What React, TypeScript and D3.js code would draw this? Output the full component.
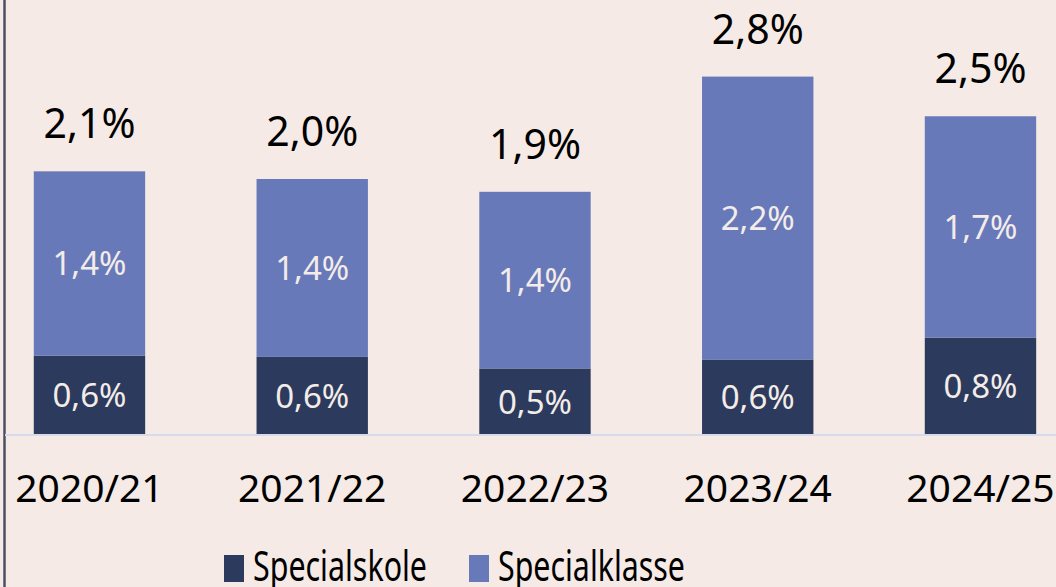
import React from "react";
import * as d3 from "d3";

const categories = ["2020/21", "2021/22", "2022/23", "2023/24", "2024/25"];
const specialskole = [0.62, 0.61, 0.52, 0.59, 0.76];
const specialklasse = [1.44, 1.39, 1.38, 2.21, 1.73];
const seriesNames = ["Specialskole", "Specialklasse"];
const seriesColors = ["#2c3a5e", "#6879b9"];

const W = 1056;
const H = 587;
const baseY = 435;
const FONT = "'Noto Sans', 'Open Sans', sans-serif";

const fmt = (v: number) => v.toFixed(1).replace(".", ",") + "%";

export default function App() {
  const x = d3
    .scaleBand<string>()
    .domain(categories)
    .range([-21.9, 1091.85])
    .paddingInner(0.5)
    .paddingOuter(0.25);
  const y = d3.scaleLinear().domain([0, 1]).range([baseY, baseY - 128]);
  const rows = categories.map((c, i) => ({ c, a: specialskole[i], b: specialklasse[i] }));
  const stack = d3.stack<any>().keys(["a", "b"])(rows as any);
  const bw = x.bandwidth();

  return (
    <svg width={W} height={H} style={{ position: "absolute", left: 0, top: 0, display: "block" }}>
      <rect x={0} y={0} width={W} height={H} fill="#f5eae5" />
      <line x1={4.5} x2={4.5} y1={0} y2={H} stroke="#4b5163" strokeWidth={2.5} />
      {stack.map((s, si) => (
        <g key={si}>
          {s.map((d: any, i: number) => {
            const cx = (x(categories[i]) as number) + bw / 2;
            const y0 = y(d[0]);
            const y1 = y(d[1]);
            const v = si === 0 ? specialskole[i] : specialklasse[i];
            return (
              <g key={i}>
                <rect x={x(categories[i])} y={y1} width={bw} height={y0 - y1} fill={seriesColors[si]} />
                <text
                  x={cx}
                  y={(y0 + y1) / 2}
                  dy="0.36em"
                  textAnchor="middle"
                  fontFamily={FONT}
                  fontSize={33}
                  fill="#f3ece8"
                >
                  {fmt(v)}
                </text>
              </g>
            );
          })}
        </g>
      ))}
      <line x1={5} x2={W} y1={baseY} y2={baseY} stroke="#d5dbea" strokeWidth={2} />
      {rows.map((r, i) => {
        const cx = (x(r.c) as number) + bw / 2;
        return (
          <g key={r.c}>
            <text x={cx} y={y(r.a + r.b) - 33} textAnchor="middle" fontFamily={FONT} fontSize={41} fill="#000">
              {fmt(r.a + r.b)}
            </text>
            <text x={cx} y={502} textAnchor="middle" fontFamily={FONT} fontSize={39} fill="#000">
              {r.c}
            </text>
          </g>
        );
      })}
      {seriesNames.map((n, i) => {
        const lx = [224, 469][i];
        const tl = [174, 187][i];
        return (
          <g key={n}>
            <rect x={lx} y={555} width={20} height={27} fill={seriesColors[i]} />
            <text
              x={lx + 29}
              y={581}
              fontFamily={FONT}
              fontSize={42}
              fill="#000"
              textLength={tl}
              lengthAdjust="spacingAndGlyphs"
            >
              {n}
            </text>
          </g>
        );
      })}
    </svg>
  );
}
